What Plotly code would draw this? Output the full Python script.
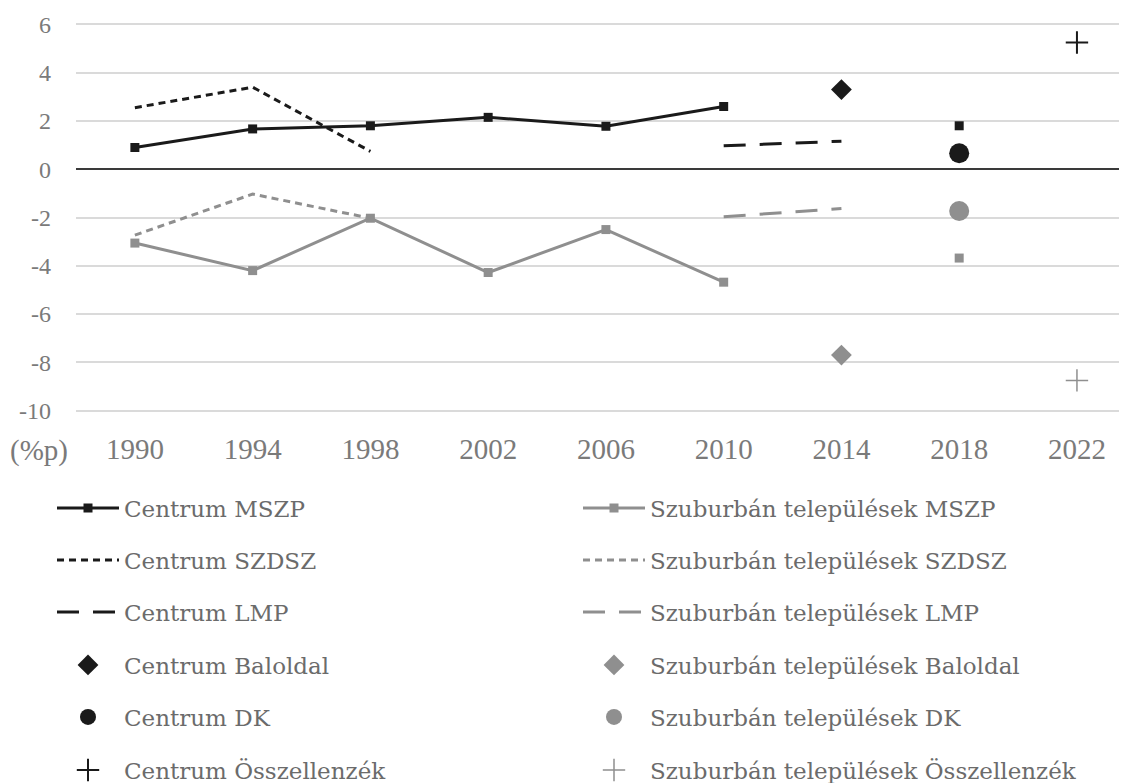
import plotly.graph_objects as go

years = [1990, 1994, 1998, 2002, 2006, 2010, 2014, 2018, 2022]
y_ticks = [-10, -8, -6, -4, -2, 0, 2, 4, 6]
y_tick_labels = ["-10", "-8", "-6", "-4", "-2", "0", "2", "4", "6"]

centrum_mszp = [0.9, 1.67, 1.8, 2.15, 1.78, 2.6, None, 1.8, None]
szub_mszp = [-3.06, -4.2, -2.03, -4.28, -2.5, -4.68, None, -3.68, None]
centrum_szdsz = [2.55, 3.4, 0.74, None, None, None, None, None, None]
szub_szdsz = [-2.73, -1.03, -2.03, None, None, None, None, None, None]
centrum_lmp = [None, None, None, None, None, 0.97, 1.16, None, None]
szub_lmp = [None, None, None, None, None, -1.97, -1.63, None, None]
centrum_bal = [None, None, None, None, None, None, 3.3, None, None]
szub_bal = [None, None, None, None, None, None, -7.7, None, None]
centrum_dk = [None, None, None, None, None, None, None, 0.66, None]
szub_dk = [None, None, None, None, None, None, None, -1.73, None]
centrum_ossz = [None, None, None, None, None, None, None, None, 5.25]
szub_ossz = [None, None, None, None, None, None, None, None, -8.75]

BLACK = "#1a1a1a"
GREY = "#8f8f8f"

series = [
    ("Centrum MSZP", centrum_mszp, dict(mode="lines+markers", line=dict(color=BLACK, width=3), marker=dict(symbol="square", size=9, color=BLACK))),
    ("Szuburbán települések MSZP", szub_mszp, dict(mode="lines+markers", line=dict(color=GREY, width=3), marker=dict(symbol="square", size=9, color=GREY))),
    ("Centrum SZDSZ", centrum_szdsz, dict(mode="lines", line=dict(color=BLACK, width=3, dash="7px,5px"))),
    ("Szuburbán települések SZDSZ", szub_szdsz, dict(mode="lines", line=dict(color=GREY, width=3, dash="7px,5px"))),
    ("Centrum LMP", centrum_lmp, dict(mode="lines", line=dict(color=BLACK, width=3, dash="22px,14px"))),
    ("Szuburbán települések LMP", szub_lmp, dict(mode="lines", line=dict(color=GREY, width=3, dash="22px,14px"))),
    ("Centrum Baloldal", centrum_bal, dict(mode="markers", marker=dict(symbol="diamond", size=16, color=BLACK))),
    ("Szuburbán települések Baloldal", szub_bal, dict(mode="markers", marker=dict(symbol="diamond", size=16, color=GREY))),
    ("Centrum DK", centrum_dk, dict(mode="markers", marker=dict(symbol="circle", size=20, color=BLACK))),
    ("Szuburbán települések DK", szub_dk, dict(mode="markers", marker=dict(symbol="circle", size=20, color=GREY))),
    ("Centrum Összellenzék", centrum_ossz, dict(mode="markers", marker=dict(symbol="cross-thin", size=16, color=BLACK, line=dict(color=BLACK, width=2)))),
    ("Szuburbán települések Összellenzék", szub_ossz, dict(mode="markers", marker=dict(symbol="cross-thin", size=16, color=GREY, line=dict(color=GREY, width=1.5)))),
]

# page has an 8px body margin, so the figure is drawn 8px smaller
W, H = 1119, 775
row_centers = [500, 552, 604, 657, 709, 762]
col_left = [44, 570]

fig = go.Figure()
legend_layout = {}
for i, (name, vals, style) in enumerate(series):
    lname = "legend" if i == 0 else f"legend{i + 1}"
    fig.add_trace(go.Scatter(x=years, y=vals, name=name, legend=lname,
                             connectgaps=False, hoverinfo="skip", **style))
    row, col = divmod(i, 2)
    legend_layout[lname] = dict(
        xref="container", yref="container",
        x=col_left[col] / W, y=1 - row_centers[row] / H,
        xanchor="left", yanchor="middle",
        bgcolor="rgba(0,0,0,0)", borderwidth=0,
        itemwidth=62, itemsizing="trace",
        font=dict(family="DejaVu Serif", size=23, color="#6b6b6b"),
    )

fig.update_layout(
    width=W, height=H,
    margin=dict(l=68, r=0, t=13.6, b=369.6, autoexpand=False),
    paper_bgcolor="white", plot_bgcolor="white",
    showlegend=True,
    **legend_layout,
)

fig.update_xaxes(
    range=[1988, 2023.7], tickvals=years, ticktext=[str(y) for y in years],
    showgrid=False, zeroline=False, showline=False, ticks="",
    ticklabelstandoff=16,
    tickfont=dict(family="Liberation Serif", size=29, color="#7a7a7a"),
)
fig.update_yaxes(
    range=[-10.1, 6.1], tickvals=y_ticks, ticktext=y_tick_labels,
    showgrid=True, gridcolor="#dadada", gridwidth=1.5,
    zeroline=True, zerolinecolor="#3a3a3a", zerolinewidth=2,
    showline=False, ticks="", ticklabelstandoff=24,
    tickfont=dict(family="Liberation Serif", size=24, color="#7a7a7a"),
)

fig.add_annotation(
    text="(%p)", xref="paper", yref="paper", x=0, y=0,
    xanchor="right", yanchor="middle", xshift=-6, yshift=-37,
    showarrow=False,
    font=dict(family="Liberation Serif", size=29, color="#7a7a7a"),
)

fig.write_html("out.html")
